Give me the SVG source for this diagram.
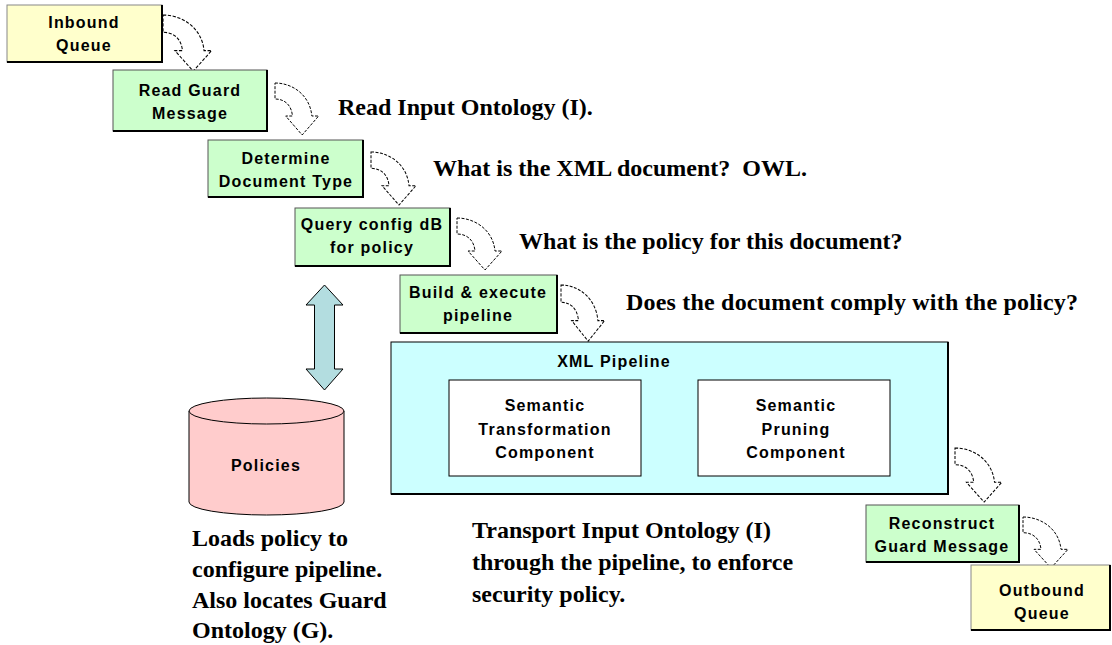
<svg xmlns="http://www.w3.org/2000/svg" xmlns:xlink="http://www.w3.org/1999/xlink" width="1112" height="645" viewBox="0 0 1112 645">
<style>
.yel{fill:#ffffcc;stroke:#888;stroke-width:1}
.grn{fill:#ccffcc;stroke:#555;stroke-width:1}
.sh{fill:none;stroke:#000;stroke-width:2}
.bt{font-family:"Liberation Sans",Arial,sans-serif;font-size:16px;font-weight:bold;letter-spacing:1.2px;fill:#000;text-anchor:middle}
.nt{font-family:"Liberation Serif","Times New Roman",serif;font-size:24px;font-weight:bold;fill:#000}
.ca{fill:#fff;stroke:#000;stroke-width:1;stroke-dasharray:3 1.5}
</style>
<defs>
<path id="carrow" d="M0,0 C18,0 36,12 38,33 L45,33 L28,52 L11,33 L18,33 C17,22 10,16 0,16 Z"/>
</defs>
<rect width="1112" height="645" fill="#fff"/>

<g id="connectors">
<use xlink:href="#carrow" class="ca" transform="translate(163,15) scale(1.08)"/>
<use xlink:href="#carrow" class="ca" transform="translate(275,83) scale(0.97,1)"/>
<use xlink:href="#carrow" class="ca" transform="translate(371,152) scale(1,1.02)"/>
<use xlink:href="#carrow" class="ca" transform="translate(457,218)"/>
<use xlink:href="#carrow" class="ca" transform="translate(561,285) scale(0.97,1.08)"/>
<use xlink:href="#carrow" class="ca" transform="translate(955,448) scale(1.04,1.04)"/>
<use xlink:href="#carrow" class="ca" transform="translate(1023,517) scale(1,0.98)"/>
<path id="dbl-arrow" d="M324.5,285 L343,305 L334.5,305 L334.5,369 L343,369 L324.5,390 L306,369 L314.5,369 L314.5,305 L306,305 Z" fill="#b3dde0" stroke="#000" stroke-width="1"/>
</g>

<g id="inbound">
<rect class="yel" x="7" y="5" width="155" height="57"/>
<path class="sh" d="M162,5 V62 H7"/>
<text class="bt" x="84" y="28">Inbound</text>
<text class="bt" x="84" y="51">Queue</text>
</g>

<g id="read-guard">
<rect class="grn" x="113" y="70" width="154" height="61"/>
<path class="sh" d="M267,70 V131 H113"/>
<text class="bt" x="190" y="96">Read Guard</text>
<text class="bt" x="190" y="119">Message</text>
</g>

<g id="determine">
<rect class="grn" x="208" y="140" width="155" height="57"/>
<path class="sh" d="M363,140 V197 H208"/>
<text class="bt" x="286" y="164">Determine</text>
<text class="bt" x="286" y="187">Document Type</text>
</g>

<g id="query">
<rect class="grn" x="295" y="208" width="155" height="58"/>
<path class="sh" d="M450,208 V266 H295"/>
<text class="bt" x="372" y="230">Query config dB</text>
<text class="bt" x="372" y="253">for policy</text>
</g>

<g id="build">
<rect class="grn" x="400" y="275" width="157" height="58"/>
<path class="sh" d="M557,275 V333 H400"/>
<text class="bt" x="478" y="298">Build &amp; execute</text>
<text class="bt" x="478" y="321">pipeline</text>
</g>

<g id="xml-pipeline">
<rect x="391" y="342" width="557" height="152" fill="#ccffff" stroke="#000" stroke-width="1"/>
<path class="sh" d="M948,342 V494 H391"/>
<text class="bt" x="614" y="367">XML Pipeline</text>
<g id="sem-transform">
<rect x="449" y="380" width="192" height="96" fill="#fff" stroke="#000" stroke-width="1"/>
<text class="bt" x="545" y="411">Semantic</text>
<text class="bt" x="545" y="435">Transformation</text>
<text class="bt" x="545" y="458">Component</text>
</g>
<g id="sem-prune">
<rect x="698" y="380" width="192" height="96" fill="#fff" stroke="#000" stroke-width="1"/>
<text class="bt" x="796" y="411">Semantic</text>
<text class="bt" x="796" y="435">Pruning</text>
<text class="bt" x="796" y="458">Component</text>
</g>
</g>

<g id="policies">
<path d="M189,411 V502 A77.5,13 0 0 0 344,502 V411" fill="#ffcccc" stroke="#000" stroke-width="1"/>
<ellipse cx="266.5" cy="411" rx="77.5" ry="13" fill="#ffcccc" stroke="#000" stroke-width="1"/>
<text class="bt" x="266" y="471">Policies</text>
</g>

<g id="reconstruct">
<rect class="grn" x="866" y="505" width="153" height="57"/>
<path class="sh" d="M1019,505 V562 H866"/>
<text class="bt" x="942" y="529">Reconstruct</text>
<text class="bt" x="942" y="552">Guard Message</text>
</g>

<g id="outbound">
<rect class="yel" x="971" y="565" width="139" height="65"/>
<path class="sh" d="M1110,565 V630 H971"/>
<text class="bt" x="1042" y="596">Outbound</text>
<text class="bt" x="1042" y="619">Queue</text>
</g>

<g id="notes">
<text class="nt" x="338" y="115">Read Input Ontology (I).</text>
<text class="nt" x="433" y="176" xml:space="preserve">What is the XML document?  OWL.</text>
<text class="nt" x="519" y="249">What is the policy for this document?</text>
<text class="nt" x="626" y="310" textLength="452" lengthAdjust="spacing">Does the document comply with the policy?</text>
<text class="nt" x="472" y="538">Transport Input Ontology (I)</text>
<text class="nt" x="472" y="570">through the pipeline, to enforce</text>
<text class="nt" x="472" y="602">security policy.</text>
<text class="nt" x="192" y="546">Loads policy to</text>
<text class="nt" x="192" y="577">configure pipeline.</text>
<text class="nt" x="192" y="608">Also locates Guard</text>
<text class="nt" x="192" y="638">Ontology (G).</text>
</g>
</svg>
